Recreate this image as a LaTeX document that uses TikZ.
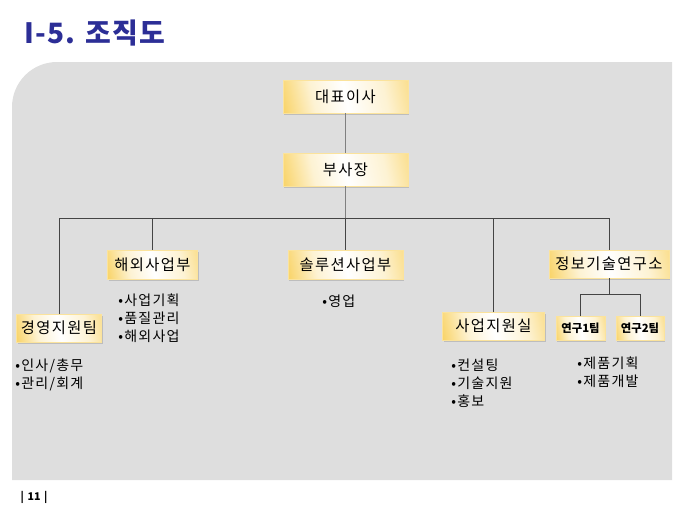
\documentclass[tikz,border=0pt]{standalone}
\usepackage{fontspec}
\setmainfont{Noto Sans CJK KR}
\newfontfamily\spacedfont[LetterSpace=9]{Noto Sans CJK KR}
\newfontfamily\titlefont[LetterSpace=4]{Noto Sans CJK KR}
\usetikzlibrary{shadows}
\definecolor{panelgray}{RGB}{222,222,222}
\definecolor{titleblue}{RGB}{44,46,150}
\definecolor{boxgold}{RGB}{246,192,36}
\definecolor{linegray}{RGB}{68,68,68}
\pgfdeclarehorizontalshading{goldbox}{100bp}{color(0bp)=(boxgold);
  color(20bp)=(boxgold!70); color(35bp)=(boxgold!20); color(50bp)=(white);
  color(68bp)=(boxgold!20); color(85bp)=(boxgold!65); color(100bp)=(boxgold)}

\begin{document}
\begin{tikzpicture}[x=0.75pt,y=-0.75pt,
  orgbox/.style={shading=goldbox, shading angle=12,
    draw=boxgold!45, line width=0.3pt, inner sep=0pt,
    drop shadow={shadow xshift=1pt, shadow yshift=-1.2pt, opacity=0.35},
    font=\spacedfont\fontsize{11.5pt}{14pt}\selectfont},
  labbox/.style={orgbox, font=\bfseries\fontsize{8.5pt}{10pt}\selectfont},
  duties/.style={anchor=north west, align=left, inner sep=0pt,
    font=\spacedfont\fontsize{10.5pt}{13.5pt}\selectfont},
  orgline/.style={draw=linegray, line width=0.75pt}]
   \useasboundingbox (0,0) rectangle (680,510);

   % panel behind the chart
   \fill[panelgray] (12,480) -- (12,107) arc[start angle=180, end angle=270, radius=45]
     -- (672,62) -- (672,480) -- cycle;

   \node[anchor=west, text=titleblue, font=\titlefont\bfseries\fontsize{21pt}{24pt}\selectfont]
     (title) at (20,33) {I-5. 조직도};
   \node[anchor=west, font=\bfseries\fontsize{8pt}{9pt}\selectfont]
     (page) at (16,497) {|\,\,11\,\,|};

   % boxes
   \node[orgbox, minimum width=93.75pt, minimum height=24.75pt] (ceo) at (345.5,96.5) {대표이사};
   \node[orgbox, minimum width=93.75pt, minimum height=24.75pt] (vp) at (345.5,169.5) {부사장};
   \node[orgbox, minimum width=67.5pt, minimum height=21.75pt] (intl) at (152.5,264.5) {해외사업부};
   \node[orgbox, minimum width=86.25pt, minimum height=21.75pt] (sol) at (345.5,264.5) {솔루션사업부};
   \node[orgbox, minimum width=90pt, minimum height=21pt] (rnd) at (609,264) {정보기술연구소};
   \node[orgbox, minimum width=63.75pt, minimum height=21pt] (mgmt) at (59,328) {경영지원팀};
   \node[orgbox, minimum width=76.5pt, minimum height=21pt] (supp) at (493.5,326) {사업지원실};
   \node[labbox, minimum width=36.75pt, minimum height=18pt] (labone) at (580.5,328.5) {연구1팀};
   \node[labbox, minimum width=36pt, minimum height=18pt] (labtwo) at (640,328.5) {연구2팀};

   % lines
   \draw[orgline, draw=gray] (ceo) -- (vp);
   \draw[orgline, draw=gray] (vp.south) -- ++(0,32) coordinate (bus);
   \draw[orgline] (mgmt.north) |- (bus) -| (rnd.north);
   \draw[orgline] (intl.north) -- (intl.north |- bus);
   \draw[orgline] (sol.north) -- (sol.north |- bus);
   \draw[orgline] (supp.north) -- (supp.north |- bus);
   \draw[orgline] (rnd.south) -- ++(0,16) coordinate (labbus);
   \draw[orgline] (labone.north) |- (labbus) -| (labtwo.north);

   % duties
   \node[duties] (intltasks) at (118,294) {•사업기획\\•품질관리\\•해외사업};
   \node[duties] (soltasks) at (322,295) {•영업};
   \node[duties] (mgmttasks) at (15,359) {•인사/총무\\•관리/회계};
   \node[duties] (supptasks) at (451,359) {•컨설팅\\•기술지원\\•홍보};
   \node[duties] (labtasks) at (577,357) {•제품기획\\•제품개발};
 \end{tikzpicture}
\end{document}
